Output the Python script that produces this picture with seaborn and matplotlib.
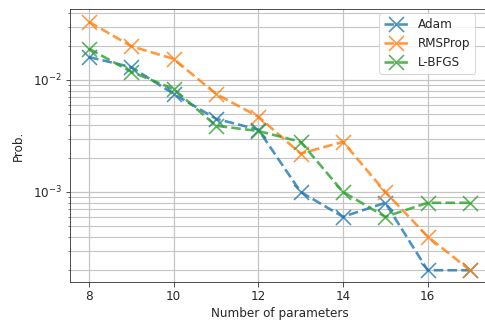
import numpy as np
import pandas as pd
import matplotlib
matplotlib.use("Agg")
import matplotlib.pyplot as plt
import seaborn as sns

# Probability of success vs. number of parameters for three optimisers
n_params = [8, 9, 10, 11, 12, 13, 14, 15, 16, 17]
adam = [0.016, 0.013, 0.0075, 0.0045, 0.0036, 0.0010, 0.0006, 0.0008, 0.0002, 0.0002]
rmsprop = [0.033, 0.020, 0.0154, 0.0075, 0.0047, 0.0022, 0.0028, 0.0010, 0.0004, 0.0002]
lbfgs = [0.019, 0.0118, 0.0083, 0.0039, 0.0035, 0.0028, 0.0010, 0.0006, 0.0008, 0.0008]
series_names = ["Adam", "RMSProp", "L-BFGS"]

sns.set_style("ticks")
plt.rcParams['font.family'] = ['DejaVu Sans']

df = pd.DataFrame({
    "params": n_params * 3,
    "prob": adam + rmsprop + lbfgs,
    "optimizer": np.repeat(series_names, len(n_params)),
})

fig = plt.figure(figsize=(485 / 72, 324 / 72), dpi=72)
ax = fig.add_axes([70 / 485, 42 / 324, 419 / 485, 273 / 324])

palette = sns.color_palette("tab10", 3)
for name, color in zip(series_names, palette):
    sub = df[df["optimizer"] == name]
    sns.lineplot(data=sub, x="params", y="prob", ax=ax, label=name, color=color,
                 linestyle="--", linewidth=2.6, marker="x", markersize=15,
                 markeredgewidth=1.6, markeredgecolor=color, alpha=0.8)

ax.set_yscale("log")
ax.set_xlim(7.55, 17.45)
ax.set_ylim(1.57e-4, 0.043)
ax.set_xticks([8, 10, 12, 14, 16])
ax.grid(True, which="major", color="#c4c4c4", linewidth=1.2)
ax.grid(True, which="minor", axis="y", color="#c4c4c4", linewidth=1.1)
ax.tick_params(which="both", colors=".15", labelsize=12)
ax.tick_params(which="major", length=4.5)
ax.tick_params(which="minor", length=2.5)
ax.set_xlabel("Number of parameters", fontsize=12, color=".15")
ax.set_ylabel("Prob.", fontsize=12, color=".15", labelpad=8)
ax.legend(loc="upper right", fontsize=12, bbox_to_anchor=(0.992, 0.978),
          bbox_transform=fig.transFigure)

fig.savefig("out.png", dpi=72)
